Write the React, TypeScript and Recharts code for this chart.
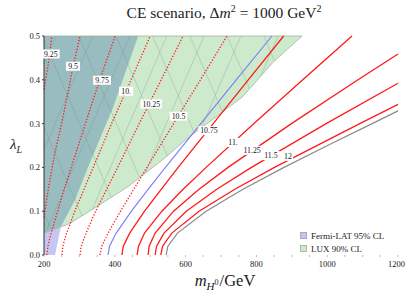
import { ComposedChart, XAxis, YAxis, Line, Area, Scatter } from 'recharts'

type Pt = [number, number]

// contour lines: [m_H0 in GeV, lambda_L]
const c925: Pt[] = [[200, 0.378], [211, 0.43], [222, 0.5]]
const c950: Pt[] = [[200, 0.085], [212, 0.15], [230, 0.23], [255, 0.32], [282, 0.43], [302, 0.5]]
const c975: Pt[] = [[208, 0], [211, 0.02], [217, 0.04], [231, 0.08], [257, 0.15], [297, 0.25], [337, 0.35], [366, 0.42], [401, 0.5]]
const c1000: Pt[] = [[251, 0], [253, 0.02], [264, 0.05], [287, 0.1], [339, 0.2], [391, 0.3], [446, 0.4], [500, 0.5]]
const c1025: Pt[] = [[302, 0], [305, 0.02], [319, 0.05], [346, 0.1], [408, 0.2], [469, 0.3], [531, 0.4], [593, 0.5]]
const c1050: Pt[] = [[358, 0], [363, 0.02], [381, 0.05], [416, 0.1], [491, 0.2], [566, 0.3], [642, 0.4], [717, 0.5]]
const blueLine: Pt[] = [[381, 0], [385, 0.02], [404, 0.05], [447, 0.1], [494, 0.15], [543, 0.2], [643, 0.3], [743, 0.4], [844, 0.5]]
const c1075: Pt[] = [[420, 0], [424, 0.02], [442, 0.05], [484, 0.1], [531, 0.15], [579, 0.2], [678, 0.3], [777, 0.4], [877, 0.5]]
const c1100: Pt[] = [[463, 0], [467, 0.02], [484, 0.05], [533, 0.1], [593, 0.15], [658, 0.2], [793, 0.3], [931, 0.4], [1070, 0.5]]
const c1125: Pt[] = [[494, 0], [497, 0.02], [514, 0.05], [566, 0.1], [638, 0.15], [720, 0.2], [899, 0.3], [1087, 0.4], [1200, 0.459]]
const c1150: Pt[] = [[514, 0], [518, 0.02], [539, 0.05], [602, 0.1], [688, 0.15], [786, 0.2], [997, 0.3], [1200, 0.392]]
const c1200: Pt[] = [[530, 0], [535, 0.02], [561, 0.05], [638, 0.1], [739, 0.15], [851, 0.2], [1092, 0.3], [1200, 0.344]]
const grayLine: Pt[] = [[545, 0], [550, 0.02], [577, 0.05], [658, 0.1], [762, 0.15], [878, 0.2], [1001, 0.25], [1127, 0.3], [1200, 0.329]]

const dottedLines = [c925, c950, c975, c1000, c1025, c1050]
const solidLines = [c1075, c1100, c1125, c1150, c1200]

// contour labels
const labelText = ['9.25', '9.5', '9.75', '10.', '10.25', '10.5', '10.75', '11.', '11.25', '11.5', '12']
const labelM = [219, 282, 364, 432, 503, 580, 666, 734, 788, 841, 889]
const labelL = [0.459, 0.431, 0.399, 0.374, 0.345, 0.317, 0.284, 0.257, 0.239, 0.227, 0.225]

// LUX 90% CL lower edge, and Fermi-LAT 95% CL right edge
const luxLower: Pt[] = [[200, 0.05], [273, 0.072], [358, 0.115], [437, 0.156], [536, 0.218], [612, 0.271], [689, 0.317], [762, 0.362], [847, 0.44], [929, 0.5]]
const luxTop: Pt[] = [[200, 0.5], [929, 0.5]]
// [m, low, high]
const overlapBand: [number, number, number][] = [[200, 0.05, 0.5], [248, 0.065, 0.5], [288, 0.126, 0.5], [324, 0.2, 0.5], [395, 0.337, 0.5], [466, 0.5, 0.5]]
const fermiOnlyBand: [number, number, number][] = [[200, 0, 0.05], [231, 0, 0.06], [240, 0.034, 0.062], [248, 0.065, 0.065]]

// hatch lines over the LUX region
const meshLines: Pt[][] = [
  [[200, 0.096], [251, 0]], [[200, 0.291], [355, 0]], [[200, 0.489], [460, 0]], [[298, 0.5], [564, 0]],
  [[403, 0.5], [669, 0]], [[507, 0.5], [773, 0]], [[612, 0.5], [878, 0]], [[717, 0.5], [983, 0]], [[821, 0.5], [1087, 0]],
  [[200, 0.436], [234, 0.5]], [[200, 0.241], [338, 0.5]], [[200, 0.043], [443, 0.5]], [[281, 0], [547, 0.5]],
  [[386, 0], [652, 0.5]], [[490, 0], [756, 0.5]], [[595, 0], [861, 0.5]],
]

const xTicks = [200, 250, 300, 350, 400, 450, 500, 550, 600, 650, 700, 750, 800, 850, 900, 950, 1000, 1050, 1100, 1150, 1200]
const yTicks = [0, 0.1, 0.2, 0.3, 0.4, 0.5]

const serif = '"Liberation Serif", "DejaVu Serif", serif'
const pts = (p: Pt[]) => p.map(([m, l]) => ({ m, l }))
const band = (b: [number, number, number][]) => b.map(([m, lo, hi]) => ({ m, r: [lo, hi] }))

const labels = labelText.map((t, i) => ({ t, m: labelM[i], l: labelL[i] }))
const luxBand = band(luxLower.map(([m, l]) => [m, l, 0.5] as [number, number, number]))
const outsideBand = band([...luxLower.map(([m, l]) => [m, 0, l] as [number, number, number]), [1200, 0, 0.5]])

function ContourLabel(props: any) {
  const { cx, cy, payload } = props
  const w = payload.t.length * 3.7 + 3
  return (
    <g>
      <rect x={cx - w / 2} y={cy - 4.5} width={w} height={9} fill="#fff" />
      <text x={cx} y={cy} dy="0.34em" textAnchor="middle" fontSize={7.8} fontFamily={serif} fill="#111">
        {payload.t}
      </text>
    </g>
  )
}

export default function App() {
  return (
    <div style={{ position: 'absolute', left: 0, top: 0, width: 405, height: 304, background: '#fff', fontFamily: serif }}>
      <ComposedChart width={405} height={304} margin={{ top: 36, right: 7, bottom: 0, left: 0 }}>
        <XAxis
          dataKey="m"
          type="number"
          domain={[200, 1200]}
          ticks={xTicks}
          height={49}
          axisLine={false}
          tickSize={2}
          tickMargin={4}
          tickLine={{ stroke: '#bbb' }}
          tickFormatter={(v: number) => (v % 200 === 0 ? String(v) : '')}
          tick={{ fontSize: 8.5, fill: '#222', fontFamily: serif }}
        />
        <XAxis
          xAxisId="top"
          orientation="top"
          dataKey="m"
          type="number"
          domain={[200, 1200]}
          ticks={xTicks}
          height={0}
          axisLine={false}
          tickSize={2}
          tickLine={{ stroke: '#bbb' }}
          tickFormatter={() => ''}
        />
        <YAxis
          dataKey="l"
          type="number"
          domain={[0, 0.5]}
          ticks={yTicks}
          width={44}
          axisLine={{ stroke: '#333' }}
          tickSize={2}
          tickMargin={2}
          tickLine={{ stroke: '#333' }}
          tickFormatter={(v: number) => v.toFixed(1)}
          tick={{ fontSize: 8.5, fill: '#222', fontFamily: serif }}
        />

        <Area data={luxBand} dataKey="r" type="linear" fill="#ceeacc" fillOpacity={1} stroke="none" isAnimationActive={false} />
        <Area data={band(overlapBand)} dataKey="r" type="linear" fill="#98bcc0" fillOpacity={1} stroke="none" isAnimationActive={false} />
        {meshLines.map((seg, i) => (
          <Area key={'mesh' + i} data={pts(seg)} dataKey="l" type="linear" fill="none" stroke="#6f8f80" strokeOpacity={0.42} strokeWidth={0.7} isAnimationActive={false} />
        ))}
        <Area data={outsideBand} dataKey="r" type="linear" fill="#fff" fillOpacity={1} stroke="none" isAnimationActive={false} />
        <Area data={band(fermiOnlyBand)} dataKey="r" type="linear" fill="#c6c6f3" fillOpacity={1} stroke="none" isAnimationActive={false} />
        <Line data={pts(luxLower)} dataKey="l" stroke="#9fb39f" strokeWidth={0.8} dot={false} isAnimationActive={false} />
        <Line data={pts(luxTop)} dataKey="l" stroke="#9fb39f" strokeWidth={0.8} dot={false} isAnimationActive={false} />

        {dottedLines.map((c, i) => (
          <Line key={'d' + i} data={pts(c)} dataKey="l" stroke="#ff1a1a" strokeWidth={1.3} strokeDasharray="1.3 1.7" dot={false} isAnimationActive={false} />
        ))}
        <Line data={pts(blueLine)} dataKey="l" stroke="#7f7ff8" strokeWidth={1.15} dot={false} isAnimationActive={false} />
        {solidLines.map((c, i) => (
          <Line key={'s' + i} data={pts(c)} dataKey="l" stroke="#ff1a1a" strokeWidth={1.3} dot={false} isAnimationActive={false} />
        ))}
        <Line data={pts(grayLine)} dataKey="l" stroke="#8a8a8a" strokeWidth={1.2} dot={false} isAnimationActive={false} />
        <Scatter data={labels} dataKey="l" shape={ContourLabel} isAnimationActive={false} />
      </ComposedChart>

      <div style={{ position: 'absolute', left: 0, top: 3, width: 448, textAlign: 'center', fontSize: 15.5, color: '#222', whiteSpace: 'nowrap' }}>
        CE scenario, Δ<i>m</i><sup style={{ fontSize: 10 }}>2</sup> = 1000 GeV<sup style={{ fontSize: 10 }}>2</sup>
      </div>
      <div style={{ position: 'absolute', left: 0, top: 271, width: 450, textAlign: 'center', fontSize: 16.5, color: '#222', whiteSpace: 'nowrap' }}>
        <i>m</i>
        <sub style={{ fontSize: 11 }}>
          <i>H</i>
          <sup style={{ fontSize: 8 }}>0</sup>
        </sub>
        <span style={{ marginLeft: 1 }}>/GeV</span>
      </div>
      <div style={{ position: 'absolute', left: 10, top: 136, fontSize: 15, color: '#222', whiteSpace: 'nowrap' }}>
        <i>λ</i>
        <sub style={{ fontSize: 10 }}>
          <i>L</i>
        </sub>
      </div>
      <div style={{ position: 'absolute', left: 300, top: 230, fontSize: 9, color: '#222', lineHeight: '13px', whiteSpace: 'nowrap' }}>
        <div>
          <span style={{ display: 'inline-block', width: 5, height: 5, background: '#c4c4f0', border: '0.5px solid #aab', marginRight: 4 }} />
          Fermi-LAT 95% CL
        </div>
        <div>
          <span style={{ display: 'inline-block', width: 5, height: 5, background: '#cde8cc', border: '0.5px solid #aba', marginRight: 4 }} />
          LUX 90% CL
        </div>
      </div>
    </div>
  )
}
